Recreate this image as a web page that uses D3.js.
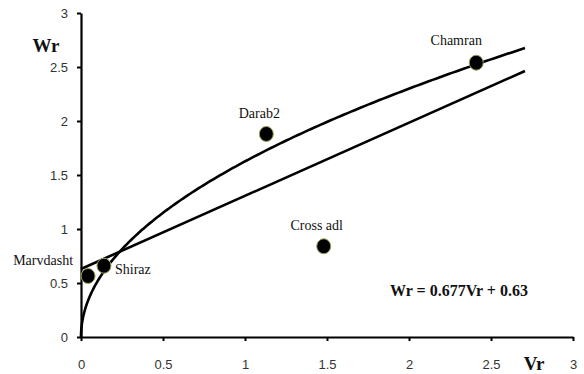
<!DOCTYPE html>
<html>
<head>
<meta charset="utf-8">
<script src="https://cdn.jsdelivr.net/npm/d3@7"></script>
<style>
  html, body { margin: 0; padding: 0; background: #fff; }
  svg { display: block; }
  .tick text { font-family: "Liberation Sans Narrow", "Liberation Sans", Arial, sans-serif; font-size: 13px; fill: #333; }
  .lbl { font-family: "Liberation Serif", "Times New Roman", serif; font-size: 14px; fill: #111; }
  .bold { font-family: "Liberation Serif", "Times New Roman", serif; font-weight: bold; fill: #111; }
</style>
</head>
<body>
<svg id="chart" width="584" height="374"></svg>
<script>
// Station names and their (Vr, Wr) values
const stations = ["Marvdasht", "Shiraz", "Darab2", "Cross adl", "Chamran"];
const vrValues = [0.043, 0.14, 1.13, 1.48, 2.41];
const wrValues = [0.565, 0.66, 1.88, 0.84, 2.54];

// Axis ticks
const xTicks = [0, 0.5, 1, 1.5, 2, 2.5, 3];
const yTicks = [0, 0.5, 1, 1.5, 2, 2.5, 3];

// Linear trend: Wr = 0.677 Vr + 0.63
const linSlope = 0.677;
const linIntercept = 0.63;
// Power trend: Wr = 1.626 Vr^0.5
const powCoef = 1.626;
const powExp = 0.5;
const trendEnd = 2.707;

const svg = d3.select("#chart");
const x = d3.scaleLinear().domain([0, 3]).range([81, 573]);
const y = d3.scaleLinear().domain([0, 3]).range([337, 13]);

const fmt = d => (d === 0 ? "0" : String(d));

const xAxis = svg.append("g").attr("transform", `translate(0,${y(0)})`)
  .call(d3.axisBottom(x).tickValues(xTicks).tickFormat(fmt).tickSize(4).tickPadding(19).tickSizeOuter(0));
const yAxis = svg.append("g").attr("transform", `translate(${x(0)},0)`)
  .call(d3.axisLeft(y).tickValues(yTicks).tickFormat(fmt).tickSize(4).tickPadding(9).tickSizeOuter(0));

[xAxis, yAxis].forEach(g => {
  g.select(".domain").attr("stroke", "#000").attr("stroke-width", 2.2);
  g.selectAll(".tick line").attr("stroke", "#000").attr("stroke-width", 2);
});

// Trend lines
const line = d3.line().x(d => x(d[0])).y(d => y(d[1]));
svg.append("path")
  .attr("d", line([[0, linIntercept], [trendEnd, linIntercept + linSlope * trendEnd]]))
  .attr("fill", "none").attr("stroke", "#000").attr("stroke-width", 2.6);

const powPts = d3.range(0, 201).map(i => {
  const v = trendEnd * Math.pow(i / 200, 2);
  return [v, powCoef * Math.pow(v, powExp)];
});
svg.append("path")
  .attr("d", line(powPts))
  .attr("fill", "none").attr("stroke", "#000").attr("stroke-width", 2.6);

// Station markers
const pts = stations.map((s, i) => ({ name: s, vr: vrValues[i], wr: wrValues[i] }));
svg.append("g").selectAll("ellipse").data(pts).join("ellipse")
  .attr("cx", d => x(d.vr)).attr("cy", d => y(d.wr))
  .attr("rx", 7).attr("ry", 7.5)
  .attr("fill", "#000").attr("stroke", "#9aa45a").attr("stroke-width", 1);

// Station labels
const labelOffsets = {
  "Marvdasht": [-15, -11, "end"],
  "Shiraz": [11, 8, "start"],
  "Darab2": [-7, -16, "middle"],
  "Cross adl": [-7, -16, "middle"],
  "Chamran": [-20, -18, "middle"]
};
svg.append("g").selectAll("text").data(pts).join("text")
  .attr("class", "lbl")
  .attr("x", d => x(d.vr) + labelOffsets[d.name][0])
  .attr("y", d => y(d.wr) + labelOffsets[d.name][1])
  .attr("text-anchor", d => labelOffsets[d.name][2])
  .text(d => d.name);

// Axis titles and equation
svg.append("text").attr("class", "bold").attr("x", 46).attr("y", 52)
  .attr("text-anchor", "middle").attr("font-size", 19).text("Wr");
svg.append("text").attr("class", "bold").attr("x", 534).attr("y", 370)
  .attr("text-anchor", "middle").attr("font-size", 19).text("Vr");
svg.append("text").attr("class", "bold").attr("x", 390).attr("y", 296)
  .attr("font-size", 16).text(`Wr = ${linSlope}Vr + ${linIntercept}`);
</script>
</body>
</html>
